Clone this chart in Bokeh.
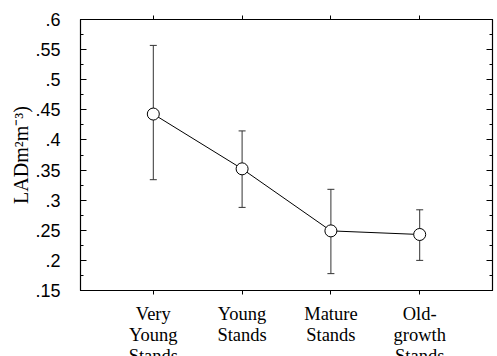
from bokeh.plotting import figure
from bokeh.layouts import column
from bokeh.models import FixedTicker, LinearAxis, Range1d, ColumnDataSource, Whisker, TeeHead
from bokeh.core.properties import value
from bokeh.embed import file_html
from bokeh.resources import INLINE

categories = ["Very\nYoung\nStands", "Young\nStands", "Mature\nStands", "Old-\ngrowth\nStands"]
x_pos = [1, 2, 3, 4]
lad_mean = [0.443, 0.352, 0.249, 0.243]
lad_upper = [0.557, 0.415, 0.318, 0.284]
lad_lower = [0.334, 0.288, 0.178, 0.200]
y_ticks = [0.15, 0.2, 0.25, 0.3, 0.35, 0.4, 0.45, 0.5, 0.55, 0.6]
y_tick_labels = [".15", ".2", ".25", ".3", ".35", ".4", ".45", ".5", ".55", ".6"]
y_minor = [0.175, 0.225, 0.275, 0.325, 0.375, 0.425, 0.475, 0.525, 0.575]

xr = Range1d(0.18, 4.82)
p = figure(frame_width=412, frame_height=271, output_backend="svg", toolbar_location=None,
           x_range=xr, y_range=Range1d(0.15, 0.6),
           min_border_left=80, min_border_right=5, min_border_top=19, min_border_bottom=12)
p.grid.visible = False
p.outline_line_color = "black"
p.outline_line_width = 1.2
p.background_fill_color = "white"
p.border_fill_color = "white"

src = ColumnDataSource(dict(x=x_pos, y=lad_mean, upper=lad_upper, lower=lad_lower))

# x axis bottom (ticks only; category labels drawn in the strip below)
xa = p.xaxis[0]
xa.ticker = FixedTicker(ticks=x_pos)
xa.major_label_overrides = {x: "" for x in x_pos}
xa.major_label_standoff = 0
xa.major_tick_in = 0
xa.major_tick_out = 4
xa.minor_tick_out = 0
xa.minor_tick_in = 0
xa.axis_line_color = "black"

# y axis left
ya = p.yaxis[0]
ya.ticker = FixedTicker(ticks=y_ticks, minor_ticks=y_minor)
ya.major_label_overrides = {t: l for t, l in zip(y_ticks, y_tick_labels)}
ya.major_tick_in = 6
ya.major_tick_out = 0
ya.minor_tick_in = 3
ya.minor_tick_out = 0
ya.major_label_text_font = "Liberation Sans"
ya.major_label_text_font_size = "18px"
ya.major_label_text_color = "black"
ya.major_label_standoff = 20
ya.axis_label = "LADm\u00b2m\u207b\u00b3)"
ya.axis_label_text_font = "Liberation Serif"
ya.axis_label_text_font_style = "normal"
ya.axis_label_text_font_size = "20px"
ya.axis_label_text_color = "black"
ya.axis_label_standoff = 0

# right axis (ticks only)
ra = LinearAxis(ticker=FixedTicker(ticks=y_ticks, minor_ticks=y_minor),
                major_label_overrides={t: "" for t in y_ticks}, major_label_standoff=0,
                major_tick_in=6, major_tick_out=0, minor_tick_in=3, minor_tick_out=0)
p.add_layout(ra, "right")

# top axis (ticks only)
ta = LinearAxis(ticker=FixedTicker(ticks=x_pos), major_label_overrides={x: "" for x in x_pos},
                major_label_standoff=0,
                major_tick_in=0, major_tick_out=4, minor_tick_in=0, minor_tick_out=0)
p.add_layout(ta, "above")

w = Whisker(source=src, base="x", upper="upper", lower="lower", line_color="#333333", line_width=1,
            upper_head=TeeHead(size=7, line_color="#333333", line_width=1),
            lower_head=TeeHead(size=7, line_color="#333333", line_width=1))
p.add_layout(w)

p.line("x", "y", source=src, line_color="black", line_width=1)
p.scatter("x", "y", source=src, size=12, fill_color="white", line_color="black", line_width=1)

# strip below with category labels
p2 = figure(frame_width=412, frame_height=54, output_backend="svg", toolbar_location=None,
            x_range=xr, y_range=Range1d(0, 54), x_axis_type=None, y_axis_type=None,
            min_border_left=80, min_border_right=5, min_border_top=0, min_border_bottom=0)
p2.grid.visible = False
p2.outline_line_color = None
p2.background_fill_color = "white"
p2.border_fill_color = "white"
lab_src = ColumnDataSource(dict(x=x_pos, text=categories, y=[53] * len(x_pos)))
p2.text("x", "y", text="text", source=lab_src, text_font=value("Liberation Serif"),
        text_font_size="18.5px", text_color="black", text_align="center",
        text_baseline="top", text_line_height=1.05)

layout = column(p, p2, spacing=0)
open("out.html", "w").write(file_html(layout, INLINE))
